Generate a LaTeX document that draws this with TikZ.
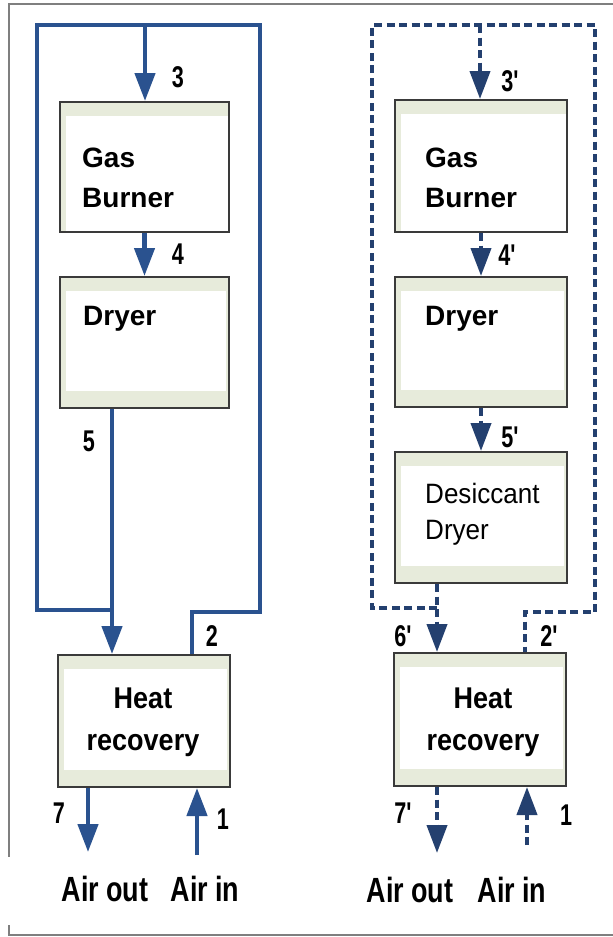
\documentclass[tikz,border=0pt]{standalone}
\usepackage{fontspec}
\setmainfont{Liberation Sans}
\newfontfamily\boxfont{Liberation Sans}
\newfontfamily\hrfont{Liberation Sans}[FakeStretch=0.9]
\newfontfamily\dsfont{Liberation Sans}[FakeStretch=0.93]
\newfontfamily\numfont{Liberation Sans}[FakeStretch=0.72]
\newfontfamily\airfont{Liberation Sans}[FakeStretch=0.77]
\usetikzlibrary{arrows.meta}
\definecolor{flowblue}{HTML}{2A528F}
\definecolor{dashblue}{HTML}{24406F}
\definecolor{band}{HTML}{E7EBDB}
\definecolor{boxline}{HTML}{3A3A3A}
\definecolor{framegray}{HTML}{7F7F7F}
\begin{document}
\begin{tikzpicture}[x=1pt,y=-1pt,
  unitbox/.style={draw=boxline, line width=2pt, fill=band, inner sep=0pt,
    path picture={\fill[white] ([xshift=6pt,yshift=-14pt]path picture bounding box.north west)
      rectangle ([xshift=-3pt,yshift=17pt]path picture bounding box.south east);}},
  unitboxtop/.style={draw=boxline, line width=2pt, fill=band, inner sep=0pt,
    path picture={\fill[white] ([xshift=6pt,yshift=-14pt]path picture bounding box.north west)
      rectangle ([xshift=-1pt,yshift=1pt]path picture bounding box.south east);}},
  flow/.style={draw=flowblue, line width=4.5pt, line join=miter},
  flowdash/.style={draw=dashblue, line width=4pt, dash pattern=on 8pt off 4.5pt},
  tip/.style={-{Triangle[length=28pt,width=20pt]}},
  boxtext/.style={inner sep=0pt, align=left, anchor=base west, font=\boxfont\bfseries\fontsize{28}{40}\selectfont},
  dstext/.style={inner sep=0pt, align=left, anchor=base west, font=\dsfont\fontsize{28}{36}\selectfont},
  hrtext/.style={inner sep=0pt, align=center, anchor=base, font=\hrfont\bfseries\fontsize{30}{42}\selectfont},
  numlabel/.style={inner sep=0pt, font=\numfont\bfseries\fontsize{30}{36}\selectfont},
  airlabel/.style={inner sep=0pt, font=\airfont\bfseries\fontsize{35}{40}\selectfont}
]
\useasboundingbox (0,0) rectangle (613,937);
\fill[white] (0,0) rectangle (613,937);
% frame
\draw[framegray, line width=1.5pt] (613,4) -- (9,4) -- (9,857);
\draw[framegray, line width=1.5pt] (9,925) -- (9,935) -- (613,935);

% ---------- left diagram ----------
\node[unitboxtop, minimum width=169pt, minimum height=130pt] (gbL) at (144.5,167) {};
\node[unitbox, minimum width=169pt, minimum height=131pt] (drL) at (144.5,342.5) {};
\node[unitbox, minimum width=172pt, minimum height=132pt] (hrL) at (144,721) {};
\node[boxtext] (gbLt) at (82,207) {Gas\\Burner};
\node[boxtext] (drLt) at (83,325) {Dryer};
\node[hrtext] (hrLt) at (143,750) {Heat\\recovery};

\coordinate (tL) at (145,25);
\coordinate (lL) at (37,25);
\coordinate (rL) at (260,25);
\coordinate (lbL) at (37,610);
\coordinate (jL) at (112,610);
\coordinate (rbL) at (260,612);
\coordinate (r2L) at (192,612);
\coordinate (oL) at (88,852);
\coordinate (iL) at (197,855);

\draw[flow] (jL) -- (lbL) -- (lL) -- (rL) -- (rbL) -- (r2L) -- (r2L |- hrL.north);
\draw[flow,tip] (tL) -- (tL |- gbL.north);
\draw[flow,tip] (gbL.south) -- (drL.north);
\draw[flow,tip] (jL |- drL.south) -- (jL |- hrL.north);
\draw[flow,tip] (oL |- hrL.south) -- (oL);
\draw[flow,tip] (iL) -- (iL |- hrL.south);

\node[numlabel] (n3) at (178,77) {3};
\node[numlabel] (n4) at (178,254) {4};
\node[numlabel] (n5) at (89,441) {5};
\node[numlabel] (n2) at (212,636) {2};
\node[numlabel] (n7) at (59,813) {7};
\node[numlabel] (n1) at (223,819) {1};
\node[airlabel] (aoL) at (105,889) {Air out};
\node[airlabel] (aiL) at (205,889) {Air in};

% ---------- right diagram ----------
\node[unitboxtop, minimum width=172pt, minimum height=132pt] (gbR) at (481,166) {};
\node[unitbox, minimum width=172pt, minimum height=130pt] (drR) at (481,342) {};
\node[unitbox, minimum width=172pt, minimum height=131pt] (dsR) at (481,517.5) {};
\node[unitbox, minimum width=172pt, minimum height=133pt] (hrR) at (480,719.5) {};
\node[boxtext] (gbRt) at (425,207) {Gas\\Burner};
\node[boxtext] (drRt) at (425,325) {Dryer};
\node[dstext] (dsRt) at (425,539) {Desiccant\\Dryer};
\node[hrtext] (hrRt) at (483,750) {Heat\\recovery};

\coordinate (tR) at (480,25);
\coordinate (lR) at (372,25);
\coordinate (rR) at (595,25);
\coordinate (lbR) at (372,608);
\coordinate (jR) at (437,608);
\coordinate (rbR) at (595,612);
\coordinate (r2R) at (525,612);
\coordinate (oR) at (437,853);
\coordinate (iR) at (527,845);

\draw[flowdash] (jR) -- (lbR) -- (lR) -- (rR) -- (rbR) -- (r2R) -- (r2R |- hrR.north);
\draw[flowdash,tip] (tR) -- (tR |- gbR.north);
\draw[flowdash,tip] (gbR.south) -- (drR.north);
\draw[flowdash,tip] (drR.south) -- (dsR.north);
\draw[flowdash,tip] (jR |- dsR.south) -- (jR |- hrR.north);
\draw[flowdash,tip] (oR |- hrR.south) -- (oR);
\draw[flowdash,tip] (iR) -- (iR |- hrR.south);

\node[numlabel] (n3p) at (511,81) {3\textquotesingle};
\node[numlabel] (n4p) at (508,255) {4\textquotesingle};
\node[numlabel] (n5p) at (511,437) {5\textquotesingle};
\node[numlabel] (n6p) at (404,636) {6\textquotesingle};
\node[numlabel] (n2p) at (550,636) {2\textquotesingle};
\node[numlabel] (n7p) at (404,813) {7\textquotesingle};
\node[numlabel] (n1p) at (566,815) {1};
\node[airlabel] (aoR) at (410,890) {Air out};
\node[airlabel] (aiR) at (512,890) {Air in};
\end{tikzpicture}
\end{document}
